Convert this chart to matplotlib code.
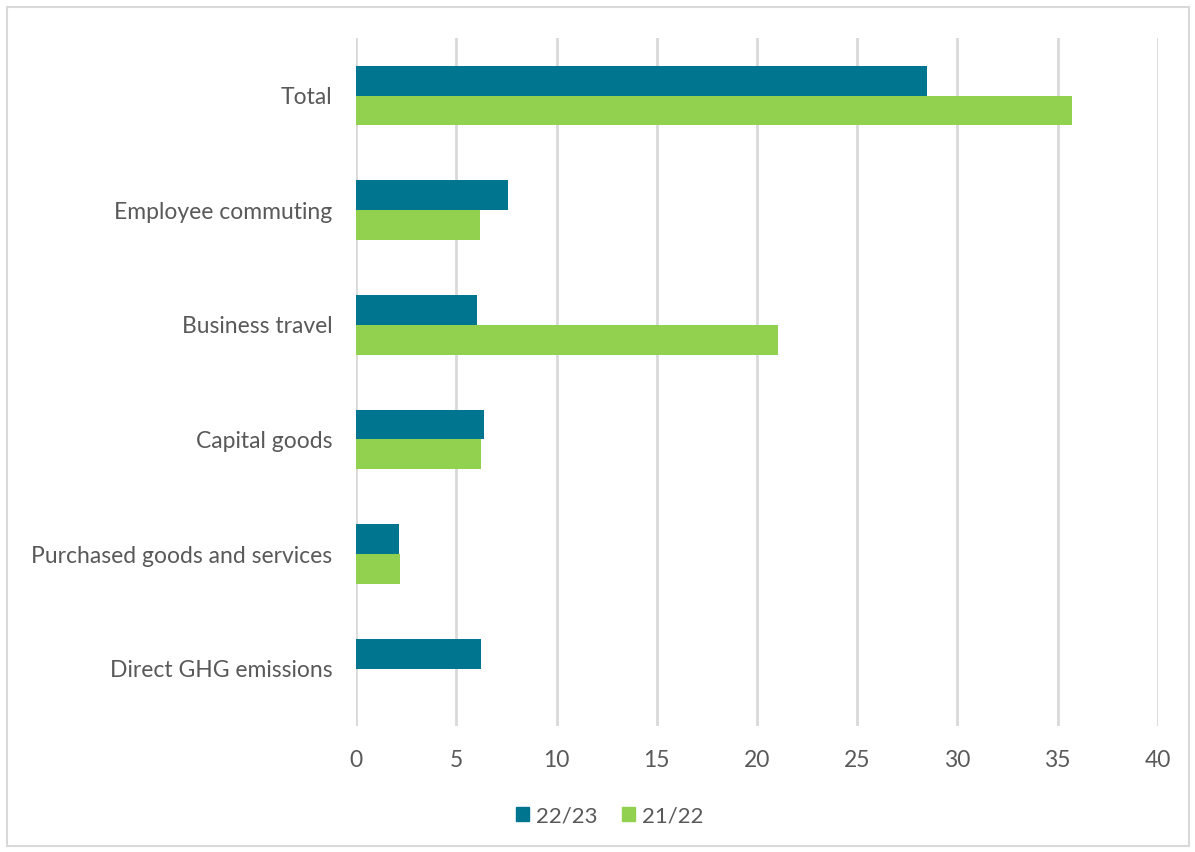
import matplotlib.pyplot as plt
import matplotlib.patches as mpatches
import numpy as np

# ── Data ────────────────────────────────────────────────────────────────
categories = [
    "Total",
    "Employee commuting",
    "Business travel",
    "Capital goods",
    "Purchased goods and services",
    "Direct GHG emissions",
]
values_2223 = [28.5, 7.6, 6.05, 6.4, 2.15, 6.25]
values_2122 = [35.7, 6.2, 21.05, 6.25, 2.2, 0.0]
series_labels = ["22/23", "21/22"]
x_ticks = [0, 5, 10, 15, 20, 25, 30, 35, 40]

TEAL = "#00758F"
GREEN = "#92D050"
TEXT = "#595959"
GRID = "#D9D9D9"

plt.rcParams["font.family"] = ["Lato", "DejaVu Sans"]

fig = plt.figure(figsize=(11.95, 8.52), dpi=100)
ax = fig.add_axes([0.298, 0.148, 0.671, 0.807])

# Categories top to bottom
y = np.arange(len(categories))[::-1].astype(float)
h = 0.26
ax.barh(y + h / 2, values_2223, height=h, color=TEAL, label=series_labels[0], zorder=3)
ax.barh(y - h / 2, values_2122, height=h, color=GREEN, label=series_labels[1], zorder=3)

ax.set_xlim(0, 40)
ax.set_ylim(-0.5, len(categories) - 0.5)
ax.set_xticks(x_ticks)
ax.set_yticks(y)
ax.set_yticklabels(categories)
ax.tick_params(axis="both", length=0, colors=TEXT)
ax.tick_params(axis="y", pad=17, labelsize=16.5)
ax.tick_params(axis="x", pad=17, labelsize=16.5)
ax.xaxis.grid(True, color=GRID, linewidth=2, zorder=0)
for s in ax.spines.values():
    s.set_visible(False)

handles = [mpatches.Patch(color=TEAL), mpatches.Patch(color=GREEN)]
fig.legend(handles, series_labels, loc="center", bbox_to_anchor=(0.51, 0.042),
           ncol=2, frameon=False, fontsize=16, labelcolor=TEXT,
           handlelength=0.6, handleheight=0.6, handletextpad=0.3, columnspacing=1.1)

# Outer chart frame
fig.patches.append(mpatches.Rectangle((0.006, 0.007), 0.989, 0.985, transform=fig.transFigure,
                                      fill=False, edgecolor=GRID, linewidth=1.5))

fig.savefig("out.png", dpi=100)
